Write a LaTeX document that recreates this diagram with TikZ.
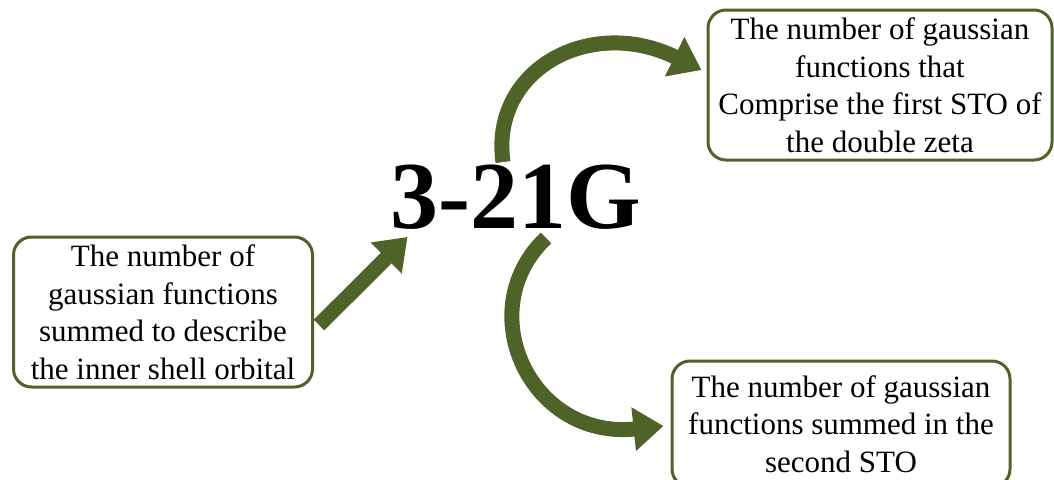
\documentclass[tikz,border=0pt]{standalone}
\usepackage{fontspec}
\setmainfont{Liberation Serif}
\usetikzlibrary{arrows.meta,calc}
\definecolor{olivebox}{HTML}{4F6228}
\begin{document}
\begin{tikzpicture}[x=1pt,y=-1pt,
  box/.style={draw=olivebox, line width=3pt, rounded corners=18pt, fill=white,
    align=center, font=\fontsize{31}{37.5}\selectfont, inner sep=0pt},
  arr/.style={olivebox, line width=15pt, -{Triangle[length=30pt,width=42pt]}}]
\useasboundingbox (0,0) rectangle (1054,479);
\node[box, minimum width=299pt, minimum height=150pt] (L) at (163,312)
  {The number of\\gaussian functions\\summed to describe\\the inner shell orbital};
\node[box, minimum width=344pt, minimum height=150pt] (TR) at (880,85)
  {The number of gaussian\\functions that\\Comprise the first STO of\\the double zeta};
\node[box, minimum width=338pt, minimum height=126pt] (BR) at (841,424)
  {The number of gaussian\\functions summed in the\\second STO};
\node[font=\bfseries\fontsize{96}{96}\selectfont, inner sep=0pt] (T) at (516,197.5) {3-21G};
\draw[arr] ($(L.east)+(5,13)$) -- ($(T.south west)+(17,7)$);
\draw[arr] ($(T.north)+(-13,-3)$) .. controls (490,70) and (590,15) .. ($(TR.west)+(-5,-15)$);
\draw[arr] ($(T.south)+(30,8)$) .. controls (470,310) and (530,440) .. ($(BR.west)+(-7,2)$);
\end{tikzpicture}
\end{document}
